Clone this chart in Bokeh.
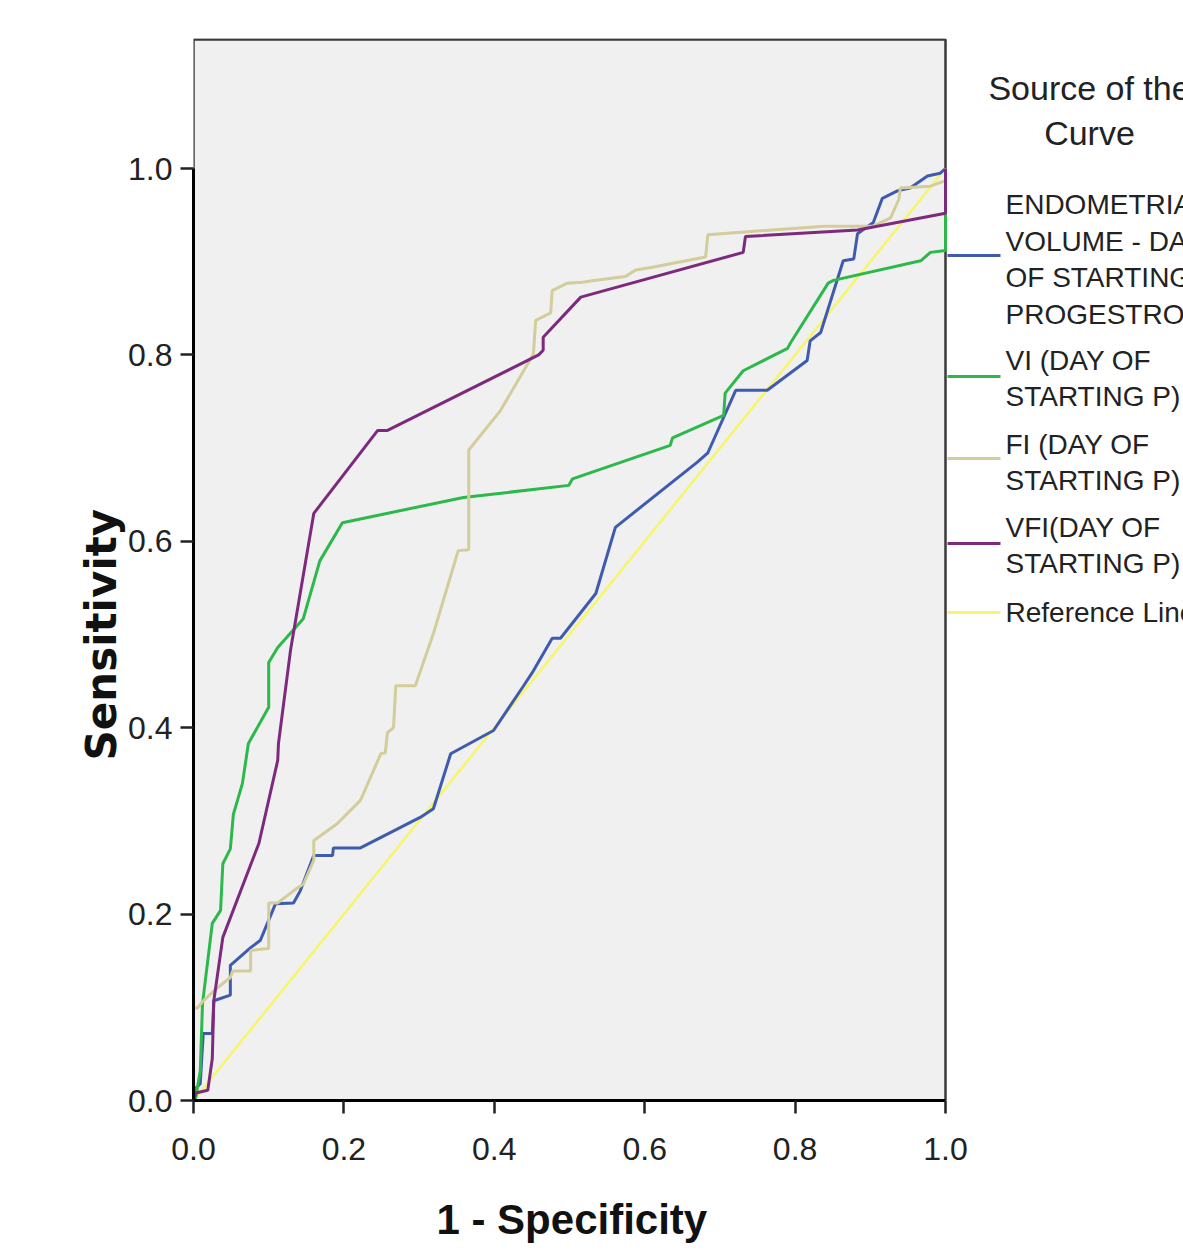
from bokeh.plotting import figure
from bokeh.models import Range1d, FixedTicker, Title
from bokeh.core.properties import value
from bokeh.embed import file_html
from bokeh.resources import INLINE

# ---------------- data ----------------
ticks = [0.0, 0.2, 0.4, 0.6, 0.8, 1.0]
tick_labels = ["0.0", "0.2", "0.4", "0.6", "0.8", "1.0"]
x_title = "1 - Specificity"
y_title = "Sensitivity"

vol_x = [0, 0.003, 0.009, 0.013, 0.025, 0.027, 0.049, 0.049, 0.076, 0.089, 0.109, 0.133, 0.142, 0.160,
         0.185, 0.186, 0.222, 0.302, 0.319, 0.342, 0.399, 0.439, 0.452, 0.477, 0.488, 0.535, 0.561,
         0.670, 0.684, 0.721, 0.763, 0.816, 0.820, 0.834, 0.864, 0.878, 0.883, 0.904, 0.916, 0.936,
         0.953, 0.976, 0.993, 1.0]
vol_y = [0, 0.013, 0.018, 0.072, 0.072, 0.107, 0.113, 0.145, 0.164, 0.172, 0.211, 0.212, 0.225, 0.263,
         0.263, 0.271, 0.271, 0.304, 0.313, 0.372, 0.397, 0.445, 0.461, 0.496, 0.496, 0.544, 0.615,
         0.685, 0.695, 0.762, 0.762, 0.794, 0.815, 0.824, 0.901, 0.903, 0.930, 0.942, 0.968, 0.976,
         0.979, 0.992, 0.995, 1.0]

vi_x = [0, 0.003, 0.009, 0.012, 0.025, 0.036, 0.039, 0.049, 0.053, 0.065, 0.073, 0.100, 0.100, 0.112,
        0.146, 0.168, 0.198, 0.359, 0.499, 0.504, 0.634, 0.637, 0.705, 0.707, 0.731, 0.790, 0.794,
        0.844, 0.851, 0.967, 0.980, 1.0, 1.0]
vi_y = [0, 0.003, 0.032, 0.104, 0.190, 0.204, 0.254, 0.270, 0.307, 0.340, 0.383, 0.422, 0.470, 0.486,
        0.517, 0.579, 0.620, 0.647, 0.660, 0.667, 0.703, 0.711, 0.735, 0.759, 0.783, 0.807, 0.813,
        0.877, 0.880, 0.901, 0.910, 0.912, 1.0]

fi_x = [0, 0.0, 0.005, 0.013, 0.032, 0.049, 0.052, 0.076, 0.076, 0.100, 0.100, 0.112, 0.138, 0.146,
        0.160, 0.160, 0.191, 0.222, 0.249, 0.255, 0.258, 0.266, 0.269, 0.295, 0.319, 0.332, 0.352,
        0.366, 0.366, 0.408, 0.452, 0.455, 0.475, 0.477, 0.497, 0.517, 0.535, 0.574, 0.588, 0.610,
        0.681, 0.684, 0.838, 0.903, 0.927, 0.938, 0.940, 0.980, 1.0, 1.0]
fi_y = [0, 0.100, 0.099, 0.107, 0.121, 0.132, 0.139, 0.139, 0.161, 0.163, 0.212, 0.212, 0.228, 0.232,
        0.258, 0.279, 0.297, 0.322, 0.372, 0.373, 0.395, 0.400, 0.445, 0.445, 0.501, 0.536, 0.590,
        0.591, 0.698, 0.740, 0.801, 0.837, 0.845, 0.869, 0.877, 0.878, 0.880, 0.884, 0.891, 0.894,
        0.905, 0.929, 0.938, 0.938, 0.947, 0.967, 0.979, 0.981, 0.987, 1.0]

vfi_x = [0, 0.003, 0.019, 0.025, 0.027, 0.039, 0.087, 0.112, 0.113, 0.129, 0.160, 0.245, 0.258, 0.459,
         0.465, 0.465, 0.515, 0.731, 0.734, 0.883, 1.0, 1.0]
vfi_y = [0, 0.008, 0.011, 0.045, 0.107, 0.175, 0.276, 0.365, 0.383, 0.483, 0.630, 0.719, 0.719, 0.800,
         0.805, 0.819, 0.862, 0.910, 0.927, 0.934, 0.952, 1.0]

ref_x = [0.0, 1.0]
ref_y = [0.0, 1.0]

series_names = ["ENDOMETRIAL\nVOLUME - DAY\nOF STARTING\nPROGESTRONE",
                "VI (DAY OF\nSTARTING P)",
                "FI (DAY OF\nSTARTING P)",
                "VFI(DAY OF\nSTARTING P)",
                "Reference Line"]
series_colors = ["#3F5BB0", "#2DB84C", "#D2CD9B", "#7D2A7E", "#F7F56A"]
legend_title = "Source of the\nCurve"

# ---------------- geometry ----------------
W, H = 1183, 1255
ML, MT = 193, 38
MB = H - 1100
px_per_x = 752.0
px_per_y = 932.0
frame_w = W - ML
frame_h = H - MT - MB
x_end = frame_w / px_per_x
y_end = frame_h / px_per_y

FONT = "Liberation Sans"


def dx(px):
    return (px - 193) / px_per_x


def dy(py):
    return (1100 - py) / px_per_y


p = figure(width=W, height=H, output_backend="svg", toolbar_location=None,
           x_range=Range1d(0, x_end), y_range=Range1d(0, y_end),
           min_border_left=ML, min_border_right=0, min_border_top=MT, min_border_bottom=MB)
p.background_fill_color = "white"
p.border_fill_color = "white"
p.outline_line_color = None
p.grid.visible = False

# plot-area panel
p.quad(left=[0], right=[1.0], bottom=[0], top=[dy(39)], fill_color="#F0F0F0",
       line_color="#3a3a3a", line_width=2.5)

line_sets = [(vol_x, vol_y), (vi_x, vi_y), (fi_x, fi_y), (vfi_x, vfi_y)]
p.line(ref_x, ref_y, line_color=series_colors[4], line_width=2.5)
for (xs, ys), c in zip(line_sets, series_colors[:4]):
    p.line(xs, ys, line_color=c, line_width=3)

# axes
for ax in (p.xaxis[0], p.yaxis[0]):
    ax.bounds = (0, 1)
    ax.ticker = FixedTicker(ticks=ticks)
    ax.major_label_overrides = {t: l for t, l in zip(ticks, tick_labels)}
    ax.minor_tick_line_color = None
    ax.axis_line_color = "black"
    ax.axis_line_width = 3
    ax.major_tick_line_color = "#222222"
    ax.major_tick_line_width = 2.5
    ax.major_tick_in = 0
    ax.major_tick_out = 13
    ax.major_label_text_font = FONT
    ax.major_label_text_font_size = "32px"
    ax.major_label_text_color = "#222222"

p.xaxis.major_label_standoff = 24
p.yaxis.major_label_standoff = 8

# x title: the frame runs on under the legend, so pad the label on the right
# (non-breaking spaces) to centre the visible words under the 0..1 panel
p.xaxis.axis_label = x_title + "\u00a0" * 20
p.xaxis.axis_label_text_font = FONT
p.xaxis.axis_label_text_font_size = "42px"
p.xaxis.axis_label_text_font_style = "bold"
p.xaxis.axis_label_text_color = "#111111"
p.xaxis.axis_label_standoff = 33

p.add_layout(Title(text=y_title, text_font="DejaVu Sans", text_font_size="42px",
                   text_font_style="bold", text_color="#111111", align="left",
                   offset=340, standoff=0), "left")

# legend (drawn to the right of the panel, clipped by the page edge as in the original)
p.text(x=[dx(1089)], y=[dy(110)], text=[legend_title], text_font=value(FONT),
       text_font_size="34px", text_align="center", text_baseline="middle",
       text_color="#222222", text_line_height=1.16)

marker_py = [255, 376, 458, 543, 612]
text_py = [259, 378, 462, 545, 612]
p.segment(x0=[dx(947)] * 5, x1=[dx(1000)] * 5, y0=[dy(v) for v in marker_py],
          y1=[dy(v) for v in marker_py], line_color=series_colors, line_width=3)
p.text(x=[dx(1005)] * 5, y=[dy(v) for v in text_py], text=series_names,
       text_font=value(FONT), text_font_size="28px", text_align="left",
       text_baseline="middle", text_color="#222222", text_line_height=1.18)

open("out.html", "w").write(file_html(p, INLINE))
